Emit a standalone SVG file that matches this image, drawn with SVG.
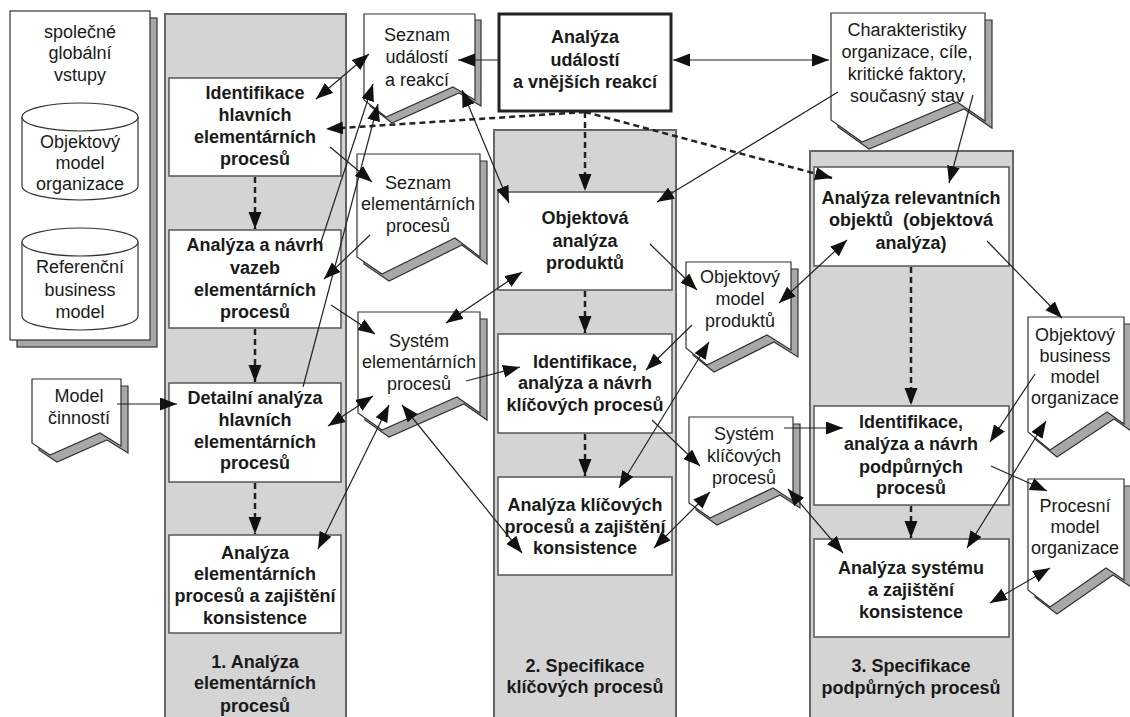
<svg xmlns="http://www.w3.org/2000/svg" width="1130" height="717" viewBox="0 0 1130 717">
<defs>
<marker id="ah" markerUnits="userSpaceOnUse" markerWidth="18" markerHeight="14" refX="17" refY="6.5" orient="auto-start-reverse" viewBox="0 0 18 14">
<path d="M0,0 L17,6.5 L0,13 z" fill="#111" stroke="none"/>
</marker>
<style>
.lane{fill:#d4d4d4;stroke:#666;stroke-width:2}
.box{fill:#fff;stroke:#555;stroke-width:1.5}
.doc{fill:#fff;stroke:#333;stroke-width:1.2}
.sh{fill:#a8a8a8;stroke:#333;stroke-width:1.2}
.b{font-family:"Liberation Sans",Arial,sans-serif;font-size:18px;font-weight:bold;fill:#1a1a1a;text-anchor:middle}
.r{font-family:"Liberation Sans",Arial,sans-serif;font-size:18px;fill:#1a1a1a;text-anchor:middle}
.c{fill:none;stroke:#222;stroke-width:1.2}
.d{fill:none;stroke:#222;stroke-width:2.5;stroke-dasharray:6,4}
</style>
</defs>

<g id="global-inputs">
<rect x="17" y="18" width="140" height="329" fill="#a8a8a8" stroke="#333" stroke-width="1.2"/>
<rect x="10" y="11" width="140" height="329" fill="#fff" stroke="#333" stroke-width="1.2"/>
<text class="r" x="80" y="38">společné</text>
<text class="r" x="80" y="59">globální</text>
<text class="r" x="80" y="81">vstupy</text>
<g id="db-objektovy-model">
<path d="M22,117 L22,186 A58,14 0 0 0 138,186 L138,117" fill="#fff" stroke="#333" stroke-width="1.2"/>
<ellipse cx="80" cy="117" rx="58" ry="14" fill="#fff" stroke="#333" stroke-width="1.2"/>
<text class="r" x="80" y="148">Objektový</text>
<text class="r" x="80" y="169">model</text>
<text class="r" x="80" y="190">organizace</text>
</g>
<g id="db-referencni">
<path d="M22,242 L22,316 A58,14 0 0 0 138,316 L138,242" fill="#fff" stroke="#333" stroke-width="1.2"/>
<ellipse cx="80" cy="242" rx="58" ry="14" fill="#fff" stroke="#333" stroke-width="1.2"/>
<text class="r" x="80" y="273">Referenční</text>
<text class="r" x="80" y="296">business</text>
<text class="r" x="80" y="318">model</text>
</g>
</g>

<g id="lane1">
<rect class="lane" x="165" y="14" width="181" height="710"/>
<text class="b" x="255" y="668">1. Analýza</text>
<text class="b" x="255" y="689">elementárních</text>
<text class="b" x="255" y="712">procesů</text>
</g>
<g id="lane2">
<rect class="lane" x="494" y="130" width="182" height="600"/>
<text class="b" x="585" y="672">2. Specifikace</text>
<text class="b" x="585" y="693">klíčových procesů</text>
</g>
<g id="lane3">
<rect class="lane" x="810" y="151" width="203" height="580"/>
<text class="b" x="911" y="672">3. Specifikace</text>
<text class="b" x="911" y="694">podpůrných procesů</text>
</g>

<g id="n-identifikace-hlavnich">
<rect class="box" x="169" y="78" width="172" height="98"/>
<text class="b" x="255" y="99">Identifikace</text>
<text class="b" x="255" y="121">hlavních</text>
<text class="b" x="255" y="143">elementárních</text>
<text class="b" x="255" y="165">procesů</text>
</g>
<g id="n-analyza-vazeb">
<rect class="box" x="169" y="230" width="172" height="98"/>
<text class="b" x="255" y="251">Analýza a návrh</text>
<text class="b" x="255" y="274">vazeb</text>
<text class="b" x="255" y="296">elementárních</text>
<text class="b" x="255" y="318">procesů</text>
</g>
<g id="n-detailni">
<rect class="box" x="169" y="383" width="172" height="99"/>
<text class="b" x="255" y="404">Detailní analýza</text>
<text class="b" x="255" y="426">hlavních</text>
<text class="b" x="255" y="448">elementárních</text>
<text class="b" x="255" y="469">procesů</text>
</g>
<g id="n-analyza-elem">
<rect class="box" x="169" y="535" width="172" height="98"/>
<text class="b" x="255" y="559">Analýza</text>
<text class="b" x="255" y="580">elementárních</text>
<text class="b" x="255" y="602">procesů a zajištění</text>
<text class="b" x="255" y="624">konsistence</text>
</g>

<g id="n-analyza-udalosti">
<rect x="499" y="14" width="172" height="97" fill="#fff" stroke="#222" stroke-width="3"/>
<text class="b" x="585" y="43">Analýza</text>
<text class="b" x="585" y="66">událostí</text>
<text class="b" x="585" y="88">a vnějších reakcí</text>
</g>
<g id="n-objektova-analyza">
<rect class="box" x="498" y="192" width="174" height="98"/>
<text class="b" x="585" y="224">Objektová</text>
<text class="b" x="585" y="247">analýza</text>
<text class="b" x="585" y="269">produktů</text>
</g>
<g id="n-identifikace-klicovych">
<rect class="box" x="498" y="334" width="174" height="99"/>
<text class="b" x="585" y="368">Identifikace,</text>
<text class="b" x="585" y="389">analýza a návrh</text>
<text class="b" x="585" y="411">klíčových procesů</text>
</g>
<g id="n-analyza-klicovych">
<rect class="box" x="498" y="477" width="174" height="98"/>
<text class="b" x="585" y="511">Analýza klíčových</text>
<text class="b" x="585" y="533">procesů a zajištění</text>
<text class="b" x="585" y="554">konsistence</text>
</g>

<g id="n-analyza-relevantnich">
<rect class="box" x="814" y="167" width="195" height="99"/>
<text class="b" x="911" y="204">Analýza relevantních</text>
<text class="b" x="911" y="226" xml:space="preserve">objektů  (objektová</text>
<text class="b" x="911" y="249">analýza)</text>
</g>
<g id="n-identifikace-podpurnych">
<rect class="box" x="814" y="406" width="195" height="99"/>
<text class="b" x="911" y="428">Identifikace,</text>
<text class="b" x="911" y="450">analýza a návrh</text>
<text class="b" x="911" y="473">podpůrných</text>
<text class="b" x="911" y="494">procesů</text>
</g>
<g id="n-analyza-systemu">
<rect class="box" x="814" y="539" width="195" height="98"/>
<text class="b" x="911" y="574">Analýza systému</text>
<text class="b" x="911" y="596">a zajištění</text>
<text class="b" x="911" y="618">konsistence</text>
</g>

<g id="d-seznam-udalosti">
<polygon class="sh" transform="translate(6,6)" points="364,14 475,14 475,100 453,87 386,117 364,100"/>
<polygon class="doc" points="364,14 475,14 475,100 453,87 386,117 364,100"/>
<text class="r" x="417" y="41">Seznam</text>
<text class="r" x="417" y="63">událostí</text>
<text class="r" x="417" y="86">a reakcí</text>
</g>
<g id="d-charakteristiky">
<polygon class="sh" transform="translate(7,7)" points="831,13 985,13 985,121 957,102 862,142 831,120"/>
<polygon class="doc" points="831,13 985,13 985,121 957,102 862,142 831,120"/>
<text class="r" x="907" y="36">Charakteristiky</text>
<text class="r" x="907" y="58">organizace, cíle,</text>
<text class="r" x="907" y="80">kritické faktory,</text>
<text class="r" x="907" y="102">současný stav</text>
</g>
<g id="d-seznam-elementarnich">
<polygon class="sh" transform="translate(7,7)" points="357,154 480,154 480,257 455,238 382,274 357,257"/>
<polygon class="doc" points="357,154 480,154 480,257 455,238 382,274 357,257"/>
<text class="r" x="418" y="189">Seznam</text>
<text class="r" x="418" y="210">elementárních</text>
<text class="r" x="418" y="232">procesů</text>
</g>
<g id="d-system-elementarnich">
<polygon class="sh" transform="translate(7,7)" points="358,312 480,312 480,413 457,397 382,430 358,413"/>
<polygon class="doc" points="358,312 480,312 480,413 457,397 382,430 358,413"/>
<text class="r" x="419" y="347">Systém</text>
<text class="r" x="419" y="368">elementárních</text>
<text class="r" x="419" y="390">procesů</text>
</g>
<g id="d-model-cinnosti">
<polygon class="sh" transform="translate(7,7)" points="32,379 121,379 121,446 100,433 50,455 32,443"/>
<polygon class="doc" points="32,379 121,379 121,446 100,433 50,455 32,443"/>
<text class="r" x="79" y="402">Model</text>
<text class="r" x="79" y="424">činností</text>
</g>
<g id="d-objektovy-model-produktu">
<polygon class="sh" transform="translate(7,7)" points="686,262 791,262 791,350 767,335 707,365 686,348"/>
<polygon class="doc" points="686,262 791,262 791,350 767,335 707,365 686,348"/>
<text class="r" x="740" y="283">Objektový</text>
<text class="r" x="740" y="305">model</text>
<text class="r" x="740" y="327">produktů</text>
</g>
<g id="d-system-klicovych">
<polygon class="sh" transform="translate(7,7)" points="689,417 793,417 793,501 773,488 710,518 689,503"/>
<polygon class="doc" points="689,417 793,417 793,501 773,488 710,518 689,503"/>
<text class="r" x="744" y="440">Systém</text>
<text class="r" x="744" y="462">klíčových</text>
<text class="r" x="744" y="484">procesů</text>
</g>
<g id="d-objektovy-business-model">
<polygon class="sh" transform="translate(7,7)" points="1028,317 1124,317 1124,424 1107,412 1050,450 1028,432"/>
<polygon class="doc" points="1028,317 1124,317 1124,424 1107,412 1050,450 1028,432"/>
<text class="r" x="1075" y="341">Objektový</text>
<text class="r" x="1075" y="362">business</text>
<text class="r" x="1075" y="383">model</text>
<text class="r" x="1075" y="404">organizace</text>
</g>
<g id="d-procesni-model">
<polygon class="sh" transform="translate(7,7)" points="1028,479 1124,479 1124,580 1106,568 1050,607 1028,590"/>
<polygon class="doc" points="1028,479 1124,479 1124,580 1106,568 1050,607 1028,590"/>
<text class="r" x="1075" y="512">Procesní</text>
<text class="r" x="1075" y="533">model</text>
<text class="r" x="1075" y="554">organizace</text>
</g>

<g id="connectors">
<path class="d" d="M255,177 L255,229" marker-end="url(#ah)"/>
<path class="d" d="M255,329 L255,382" marker-end="url(#ah)"/>
<path class="d" d="M255,483 L255,534" marker-end="url(#ah)"/>
<path class="d" d="M585,291 L585,333" marker-end="url(#ah)"/>
<path class="d" d="M585,434 L585,476" marker-end="url(#ah)"/>
<path class="d" d="M911,267 L911,405" marker-end="url(#ah)"/>
<path class="d" d="M911,506 L911,538" marker-end="url(#ah)"/>
<path class="d" d="M585,112 L585,191" marker-end="url(#ah)"/>
<path class="d" d="M585,112 L326,129" marker-end="url(#ah)"/>
<path class="d" d="M585,112 L832,178" marker-end="url(#ah)"/>

<path class="c" d="M499,60 L458,60" marker-end="url(#ah)"/>
<path class="c" d="M673,60 L829,60" marker-start="url(#ah)" marker-end="url(#ah)"/>
<path class="c" d="M838,92 L657,202" marker-end="url(#ah)"/>
<path class="c" d="M973,95 L949,183" marker-end="url(#ah)"/>
<path class="c" d="M987,241 L1062,318" marker-end="url(#ah)"/>
<path class="c" d="M779,303 L847,240" marker-start="url(#ah)" marker-end="url(#ah)"/>
<path class="c" d="M650,244 L697,290" marker-end="url(#ah)"/>
<path class="c" d="M692,325 L646,370" marker-end="url(#ah)"/>
<path class="c" d="M709,342 L619,488" marker-start="url(#ah)" marker-end="url(#ah)"/>
<path class="c" d="M652,420 L700,466" marker-end="url(#ah)"/>
<path class="c" d="M710,492 L654,548" marker-start="url(#ah)" marker-end="url(#ah)"/>
<path class="c" d="M784,428 L843,428" marker-end="url(#ah)"/>
<path class="c" d="M788,489 L843,553" marker-start="url(#ah)" marker-end="url(#ah)"/>
<path class="c" d="M1035,374 L990,442" marker-end="url(#ah)"/>
<path class="c" d="M1046,421 L967,548" marker-start="url(#ah)" marker-end="url(#ah)"/>
<path class="c" d="M991,466 L1047,491" marker-end="url(#ah)"/>
<path class="c" d="M1050,568 L990,603" marker-start="url(#ah)" marker-end="url(#ah)"/>

<path class="c" d="M316,99 L369,54" marker-start="url(#ah)" marker-end="url(#ah)"/>
<path class="c" d="M320,245 L373,84" marker-end="url(#ah)"/>
<path class="c" d="M303,387 L378,104" marker-end="url(#ah)"/>
<path class="c" d="M462,90 L509,203" marker-start="url(#ah)" marker-end="url(#ah)"/>
<path class="c" d="M330,147 L372,182" marker-end="url(#ah)"/>
<path class="c" d="M370,235 L324,279" marker-end="url(#ah)"/>
<path class="c" d="M331,305 L375,334" marker-end="url(#ah)"/>
<path class="c" d="M446,323 L522,272" marker-start="url(#ah)" marker-end="url(#ah)"/>
<path class="c" d="M466,381 L520,367" marker-end="url(#ah)"/>
<path class="c" d="M328,426 L373,396" marker-start="url(#ah)" marker-end="url(#ah)"/>
<path class="c" d="M318,549 L389,405" marker-start="url(#ah)" marker-end="url(#ah)"/>
<path class="c" d="M402,405 L522,553" marker-start="url(#ah)" marker-end="url(#ah)"/>
<path class="c" d="M117,404 L177,404" marker-end="url(#ah)"/>
</g>
</svg>
